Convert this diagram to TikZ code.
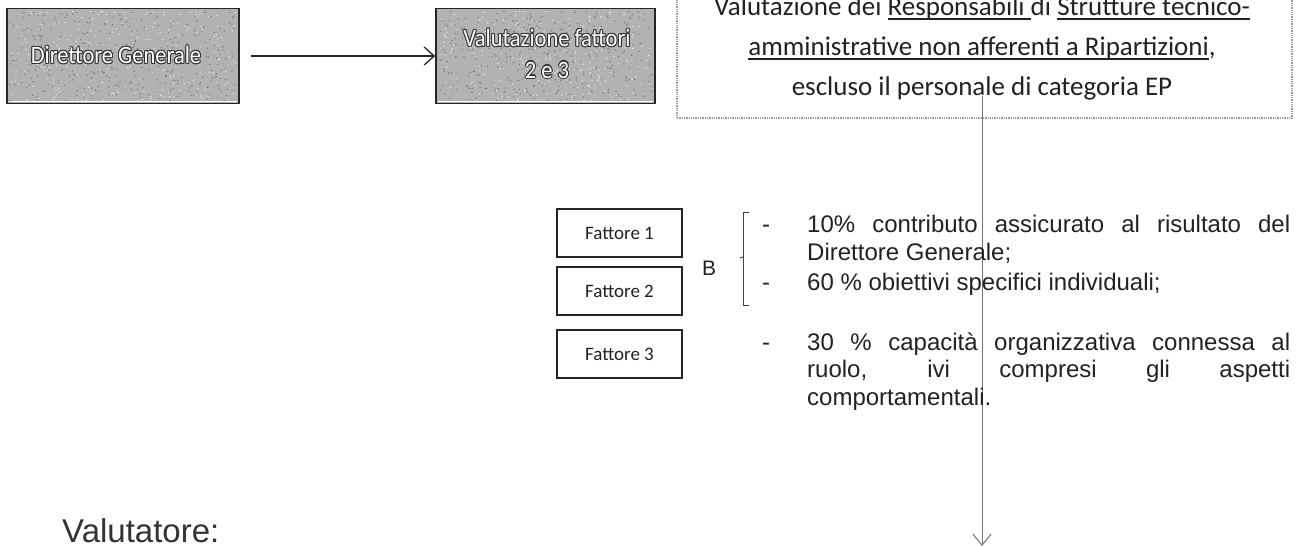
\documentclass[tikz,border=0pt]{standalone}
\usepackage{fontspec}
\setmainfont{Liberation Sans}
\newfontfamily\carl{Carlito}
\usetikzlibrary{arrows.meta,calc}
\definecolor{boxgray}{HTML}{B2B2B2}
\definecolor{ink}{HTML}{222222}
\definecolor{outl}{HTML}{333333}
\newcommand\myul[1]{\setbox0\hbox{#1}\rlap{\rule[-4.5pt]{\wd0}{1.3pt}}\box0}
\newcommand\outl[1]{\scalebox{0.9}[1]{\makebox[0pt][l]{\kern-1.1pt\textcolor{outl}{#1}}\makebox[0pt][l]{\kern1.1pt\textcolor{outl}{#1}}\makebox[0pt][l]{\raisebox{1.1pt}{\textcolor{outl}{#1}}}\makebox[0pt][l]{\raisebox{-1.1pt}{\textcolor{outl}{#1}}}\makebox[0pt][l]{\kern0.8pt\raisebox{0.8pt}{\textcolor{outl}{#1}}}\makebox[0pt][l]{\kern-0.8pt\raisebox{-0.8pt}{\textcolor{outl}{#1}}}\makebox[0pt][l]{\kern0.8pt\raisebox{-0.8pt}{\textcolor{outl}{#1}}}\makebox[0pt][l]{\kern-0.8pt\raisebox{0.8pt}{\textcolor{outl}{#1}}}\textcolor{white}{#1}}}
\begin{document}
\begin{tikzpicture}[x=1pt,y=-1pt,
  graybox/.style={draw=black!85, line width=1.8pt, fill=boxgray, minimum height=95pt, inner sep=0pt},
  graytxt/.style={font=\carl\fontsize{25}{28}\selectfont, inner sep=0pt},
  fatbox/.style={draw=black!85, line width=1.3pt, minimum width=125pt, minimum height=48pt, font=\carl\fontsize{19}{22}\selectfont, text=ink, inner sep=0pt},
  toptxt/.style={font=\carl\fontsize{27}{32}\selectfont, text=ink, anchor=base, inner sep=0pt},
  btxt/.style={font=\fontsize{24}{28}\selectfont, text=ink, anchor=base west, inner sep=0pt},
  arr/.style={line width=1.5pt, black!85, -{Straight Barb[length=10pt,width=18pt,line width=1.3pt]}},
  varr/.style={line width=1pt, black!55, -{Straight Barb[length=11pt,width=18pt,line width=1pt]}}
]
\useasboundingbox (0,0) rectangle (1297,547);
\fill[white] (0,0) rectangle (1297,547);

% grey boxes
\node[graybox, minimum width=232pt] (dg) at (123,56) {};
\node[graybox, minimum width=219pt] (vf) at (545.5,56) {};
\pgfmathsetseed{7}
\foreach \i in {1,...,350} {
  \fill[black!55] ({10+226*rnd},{11+90*rnd}) circle (0.7);
  \fill[black!55] ({439+213*rnd},{11+90*rnd}) circle (0.7);
}
\foreach \i in {1,...,250} {
  \fill[white!85!gray] ({10+226*rnd},{11+90*rnd}) circle (0.7);
  \fill[white!85!gray] ({439+213*rnd},{11+90*rnd}) circle (0.7);
}
\draw[white, line width=1pt] ($(dg.south west)+(3,-3)$) -- ($(dg.south east)+(-3,-3)$);
\draw[white, line width=1pt] ($(vf.south west)+(3,-3)$) -- ($(vf.south east)+(-3,-3)$);
\node[graytxt] (dgt) at (116,55) {\outl{Direttore Generale}};
\node[graytxt] (vft1) at (547,38) {\outl{Valutazione fattori}};
\node[graytxt] (vft2) at (547,70) {\outl{2 e 3}};
\draw[arr, shorten <=11pt] (dg.east) -- (vf.west);

% top-right box
\node[draw=black!40, densely dotted, line width=1.3pt, minimum width=615pt, minimum height=140pt, inner sep=0pt] (resp) at (984.5,48) {};
\node[toptxt] (r1) at (982,15) {Valutazione dei \myul{Responsabili }di \myul{Strutture tecnico-}};
\node[toptxt] (r2) at (982,55) {\myul{amministrative non afferenti a Ripartizioni},};
\node[toptxt] (r3) at (982,95) {escluso il personale di categoria EP};

% vertical connector
\coordinate (vtop) at (982,96);
\coordinate (vbot) at (982,546);
\draw[varr] (vtop) -- (vbot);

% Fattore boxes
\node[fatbox] (f1) at (619.5,233) {Fattore 1};
\node[fatbox] (f2) at (619.5,291) {Fattore 2};
\node[fatbox] (f3) at (619.5,354) {Fattore 3};

% B and bracket
\node[font=\fontsize{21}{24}\selectfont, text=ink, inner sep=0pt] (bl) at (709,268) {B};
\coordinate (brt) at (749,212);
\coordinate (brb) at (749,305);
\draw[line width=1pt, black!75] (brt) -- ++(-6,0) |- (brb);
\draw[line width=1pt, black!75] (743,257) -- (740,258);

% dashes
\node[btxt] (d1) at (762,232) {-};
\node[btxt] (d2) at (762,290) {-};
\node[btxt] (d3) at (762,350) {-};

% bullet text
\node[btxt] (t1a) at (807,232) {\makebox[483pt][s]{10\% contributo assicurato al risultato del}};
\node[btxt] (t1b) at (807,260) {Direttore Generale;};
\node[btxt] (t2) at (807,290) {60 \% obiettivi specifici individuali;};
\node[btxt] (t3a) at (807,350) {\makebox[483pt][s]{30 \% capacità organizzativa connessa al}};
\node[btxt] (t3b) at (807,377.5) {\makebox[483pt][s]{ruolo, ivi compresi gli aspetti}};
\node[btxt] (t3c) at (807,405) {comportamentali.};

% Valutatore
\node[font=\fontsize{33}{36}\selectfont, text=black!80, anchor=base west, inner sep=0pt] (val) at (62,542) {Valutatore:};
\end{tikzpicture}
\end{document}
